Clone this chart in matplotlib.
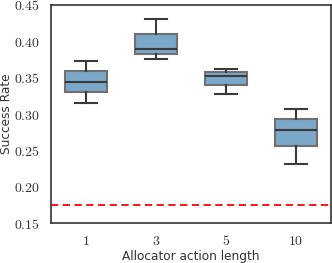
import matplotlib
matplotlib.use("Agg")
import matplotlib.pyplot as plt

plt.rcParams['mathtext.fontset'] = 'cm'

labels = ['1', '3', '5', '10']
whislo = [0.3156, 0.3753, 0.3280, 0.2312]
q1 = [0.3298, 0.3821, 0.3404, 0.2560]
med = [0.3445, 0.3899, 0.3518, 0.2780]
q3 = [0.3587, 0.4105, 0.3574, 0.2927]
whishi = [0.3725, 0.4303, 0.3615, 0.3069]
baseline = 0.175

stats = []
for i in range(len(labels)):
    stats.append(dict(label=labels[i], whislo=whislo[i], q1=q1[i], med=med[i],
                      q3=q3[i], whishi=whishi[i], fliers=[]))

fig = plt.figure(figsize=(3.32, 2.63), dpi=100)
ax = fig.add_axes([0.1536, 0.152, 0.8434, 0.829])

ax.bxp(stats, positions=range(len(labels)), widths=0.61, patch_artist=True,
       showfliers=False,
       boxprops=dict(facecolor='#7ba7c9', edgecolor='#707070', linewidth=1.5),
       medianprops=dict(color='#3a3a3a', linewidth=1.5),
       whiskerprops=dict(color='#3a3a3a', linewidth=1.5),
       capprops=dict(color='#3a3a3a', linewidth=1.5),
       capwidths=0.32)

ax.axhline(baseline, color='red', linestyle='--', linewidth=1.3, dashes=(4, 2.5))

ax.set_xlim(-0.5, 3.5)
ax.set_ylim(0.15, 0.45)
yt = [0.15, 0.20, 0.25, 0.30, 0.35, 0.40, 0.45]
ax.set_yticks(yt)
ax.set_yticklabels(['$%.2f$' % v for v in yt], fontsize=10, color='#333333')
ax.set_xticks(range(len(labels)))
ax.set_xticklabels(['$%s$' % l for l in labels], fontsize=10, color='#333333')
ax.tick_params(length=0, pad=8)
for s in ax.spines.values():
    s.set_color('#333333')
    s.set_linewidth(1.2)

ax.set_xlabel('Allocator action length', fontsize=8.7, color='#333333', labelpad=1)
ax.set_ylabel('Success Rate', fontsize=8.7, color='#333333')
ax.yaxis.set_label_coords(-0.135, 0.5)

fig.savefig('out.png', dpi=100)
